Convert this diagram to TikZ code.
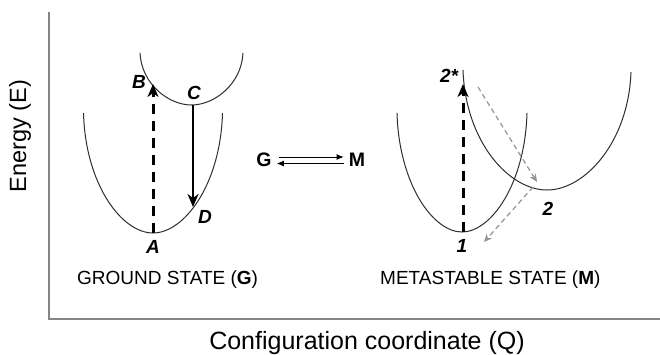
\documentclass[tikz,border=0pt]{standalone}
\usepackage{fontspec}
\setmainfont{Liberation Sans}
\usetikzlibrary{arrows.meta}
\begin{document}
\begin{tikzpicture}[x=1pt,y=-1pt,
  well/.style={draw=black!82,line width=1pt},
  axisline/.style={draw=black!48,line width=1.3pt},
  pumpline/.style={draw=black,line width=3pt,dash pattern=on 10pt off 7pt,
    -{Stealth[length=13pt,width=11pt,inset=4pt]}},
  emitline/.style={draw=black,line width=2.6pt,
    -{Stealth[length=13pt,width=11pt,inset=4pt]}},
  relaxline/.style={draw=black!42,line width=1.2pt,dash pattern=on 5pt off 3.5pt,
    -{Stealth[length=8pt,width=7pt,inset=2.5pt]}},
  eqline/.style={draw=black,line width=0.9pt,-{Latex[length=7pt,width=6pt]}},
  ptlabel/.style={font=\fontsize{19}{22}\selectfont\bfseries\itshape,inner sep=0pt},
  statelabel/.style={font=\fontsize{19}{23}\selectfont,inner sep=0pt,anchor=base west},
  axislabel/.style={font=\fontsize{25}{30}\selectfont,inner sep=0pt}]
\useasboundingbox (0,0) rectangle (660,354);

% axes
\draw[axisline] (49,12) -- (49,319) -- (660,319);
\node[axislabel,font=\fontsize{23.5}{28}\selectfont,rotate=90] (ylab) at (20,136) {Energy (E)};
\node[axislabel,anchor=base] (xlab) at (367,349) {Configuration coordinate (Q)};

% ground state: lower and upper potential wells
\draw[well] (83.5,113) .. controls (85.5,185) and (122,233) .. (153,233)
  .. controls (184,233) and (220.5,185) .. (222.5,113);
\draw[well] (140,53) .. controls (141.5,84) and (168.5,105) .. (191.5,105)
  .. controls (214.5,105) and (241.5,84) .. (243,53);

\coordinate (pA) at (153,233);
\coordinate (pB) at (153,84);
\coordinate (pC) at (193,105);
\coordinate (pD) at (193,207);
\draw[pumpline] (pA) -- (pB);
\draw[emitline] (pC) -- (pD);
\node[ptlabel] (lA) at (153,247) {A};
\node[ptlabel] (lB) at (139,82) {B};
\node[ptlabel] (lC) at (194,93) {C};
\node[ptlabel] (lD) at (205,217) {D};
\node[statelabel] (gs) at (77,284) {GROUND STATE (\textbf{G})};

% interconversion between the two states
\node[font=\fontsize{19.5}{23}\selectfont\bfseries,inner sep=0pt] (G) at (264,160) {G};
\node[font=\fontsize{19.5}{23}\selectfont\bfseries,inner sep=0pt] (M) at (357,160) {M};
\draw[eqline] ([xshift=7pt,yshift=3pt]G.east) -- ([xshift=-5pt,yshift=3pt]M.west);
\draw[eqline] ([xshift=-5pt,yshift=-3.5pt]M.west) -- ([xshift=5pt,yshift=-3.5pt]G.east);

% metastable state: wells 1 and 2
\draw[well] (397,113) .. controls (399,184) and (433,232) .. (462,232)
  .. controls (491,232) and (525,184) .. (527,113);
\draw[well] (463,70) .. controls (465.5,142) and (509,190) .. (547,190)
  .. controls (585,190) and (628.5,142) .. (631,72);

\coordinate (p1) at (463,232);
\coordinate (p2s) at (463,84);
\coordinate (r1) at (478,87);
\coordinate (r2) at (537,182);
\coordinate (r3) at (533,187);
\coordinate (r4) at (484,242);
\draw[pumpline] (p1) -- (p2s);
\draw[relaxline] (r1) -- (r2);
\draw[relaxline] (r3) -- (r4);
\node[ptlabel] (l1) at (462,246) {1};
\node[ptlabel] (l2) at (548,209) {2};
\node[ptlabel] (l2s) at (449,76) {2*};
\node[statelabel] (ms) at (380,284) {METASTABLE STATE (\textbf{M})};
\end{tikzpicture}
\end{document}
